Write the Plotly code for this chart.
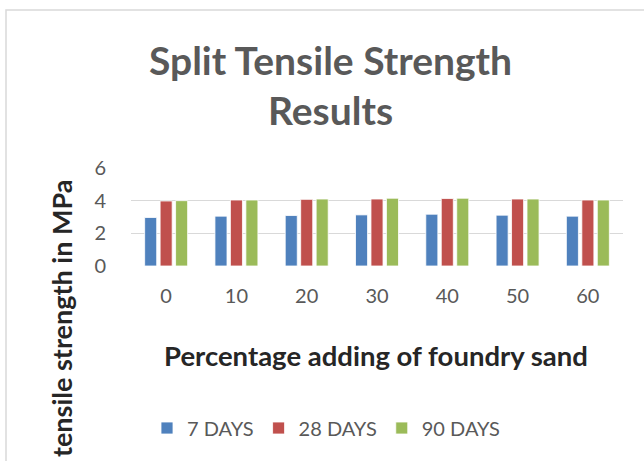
import plotly.graph_objects as go

categories = ["0", "10", "20", "30", "40", "50", "60"]
days7 = [2.97, 3.05, 3.09, 3.13, 3.17, 3.11, 3.05]
days28 = [3.98, 4.04, 4.08, 4.10, 4.13, 4.10, 4.04]
days90 = [4.00, 4.04, 4.10, 4.15, 4.15, 4.10, 4.04]
series_names = ["7 DAYS", "28 DAYS", "90 DAYS"]
colors = ["#4F81BD", "#C0504D", "#9BBB59"]

FONT = "Lato"
GREY = "#595959"

W, H = 644, 461
L, R, T, B = 131, 21, 168, 195
pw = W - L - R
ph = H - T - B

def px_x(x):
    return (x - L) / pw

def px_y(y):
    return (H - B - y) / ph

fig = go.Figure()
for name, vals, col in zip(series_names, [days7, days28, days90], colors):
    fig.add_trace(go.Bar(
        x=categories, y=vals, name=name,
        marker=dict(color=col, line=dict(color="white", width=0.8)),
    ))

fig.update_layout(
    width=W, height=H,
    margin=dict(l=L, r=R, t=T, b=B, pad=0, autoexpand=False),
    paper_bgcolor="white", plot_bgcolor="white",
    barmode="group", bargap=0.34, bargroupgap=0.22,
    font=dict(family=FONT, color=GREY),
    showlegend=True,
    legend=dict(
        orientation="h", xref="container", yref="container",
        x=326 / W, xanchor="center",
        y=(H - 428) / H, yanchor="middle",
        font=dict(family=FONT, size=20, color=GREY),
        itemwidth=30, tracegroupgap=0, traceorder="normal",
    ),
    xaxis=dict(
        type="category", showgrid=False, showline=False, zeroline=False,
        ticks="", tickfont=dict(family=FONT, size=20, color=GREY),
        ticklabelstandoff=16, automargin=False,
    ),
    yaxis=dict(
        range=[0, 6], dtick=2, showgrid=True, gridcolor="#D9D9D9", gridwidth=1,
        zeroline=False, showline=False, ticks="",
        tickfont=dict(family=FONT, size=20, color=GREY),
        ticklabelstandoff=24, automargin=False,
    ),
    shapes=[
        dict(type="rect", xref="paper", yref="paper",
             x0=px_x(6), x1=px_x(700), y0=px_y(10), y1=px_y(520),
             line=dict(color="#D9D9D9", width=1.5), fillcolor="rgba(0,0,0,0)",
             layer="below"),
    ],
    annotations=[
        dict(text="<b>Split Tensile Strength</b>", xref="paper", yref="paper",
             x=px_x(330), y=px_y(60), xanchor="center", yanchor="middle",
             showarrow=False, font=dict(family=FONT, size=39, color=GREY)),
        dict(text="<b>Results</b>", xref="paper", yref="paper",
             x=px_x(330), y=px_y(110), xanchor="center", yanchor="middle",
             showarrow=False, font=dict(family=FONT, size=39, color=GREY)),
        dict(text="<b>Percentage adding of foundry sand</b>", xref="paper", yref="paper",
             x=px_x(376), y=px_y(355), xanchor="center", yanchor="middle",
             showarrow=False, font=dict(family=FONT, size=27.5, color="#262626")),
        dict(text="<b>tensile strength in MPa</b>", xref="paper", yref="paper",
             x=px_x(61), y=px_y(319), xanchor="center", yanchor="middle",
             textangle=-90,
             showarrow=False, font=dict(family=FONT, size=27, color="#262626")),
    ],
)

fig.write_html("out.html", config={"displayModeBar": False},
               post_script="document.body.style.margin='0';")
